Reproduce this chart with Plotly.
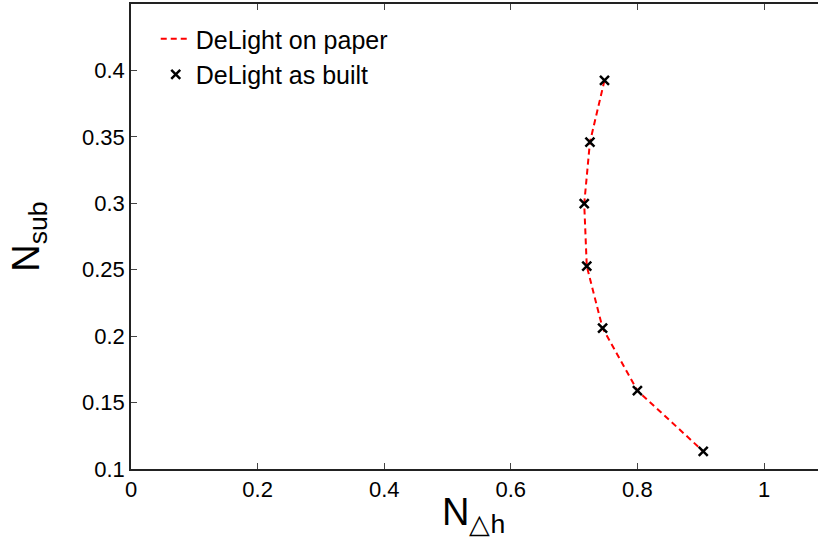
import plotly.graph_objects as go

# Daylight factor vs. height-normalised subsidy
n_dh = [0.748, 0.725, 0.716, 0.720, 0.745, 0.800, 0.904]
n_sub = [0.3925, 0.346, 0.2997, 0.2527, 0.206, 0.159, 0.1133]

x_ticks = [0, 0.2, 0.4, 0.6, 0.8, 1]
x_tick_text = ["0", "0.2", "0.4", "0.6", "0.8", "1"]
y_ticks = [0.1, 0.15, 0.2, 0.25, 0.3, 0.35, 0.4]
y_tick_text = ["0.1", "0.15", "0.2", "0.25", "0.3", "0.35", "0.4"]

FONT = "Liberation Sans, Arial, Helvetica, sans-serif"

fig = go.Figure()
fig.add_trace(go.Scatter(
    x=n_dh, y=n_sub, mode="lines", name="DeLight on paper",
    line=dict(color="#ff0000", width=2, dash="6px,4px"),
    legendgroup="a",
))
fig.add_trace(go.Scatter(
    x=n_dh, y=n_sub, mode="markers", name="DeLight as built",
    marker=dict(symbol="x-thin", size=9, color="black",
                line=dict(color="black", width=2.5)),
    legendgroup="b",
))

fig.update_layout(
    width=818, height=551,
    margin=dict(l=131, r=0, t=4, b=82),
    plot_bgcolor="white", paper_bgcolor="white",
    font=dict(family=FONT, size=22, color="black"),
    showlegend=True,
    legend=dict(x=0.036, y=0.974, xanchor="left", yanchor="top",
                bgcolor="rgba(0,0,0,0)", font=dict(size=25),
                tracegroupgap=0),
    xaxis=dict(
        range=[0, 1.0853], tickvals=x_ticks, ticktext=x_tick_text,
        showgrid=False, zeroline=False, showline=True, linecolor="#222",
        linewidth=1.5, mirror="ticks", ticks="inside", ticklen=6,
        tickcolor="#444", tickwidth=1,
    ),
    yaxis=dict(
        range=[0.1, 0.45], tickvals=y_ticks, ticktext=y_tick_text,
        showgrid=False, zeroline=False, showline=True, linecolor="#222",
        linewidth=1.5, ticks="inside", ticklen=6, tickcolor="#444",
        tickwidth=1,
        title=dict(text="N<sub>sub</sub>", font=dict(size=38), standoff=31),
    ),
)

# x-axis title placed as an annotation just under the tick labels
fig.add_annotation(
    text="N<sub>△h</sub>", xref="paper", yref="paper",
    x=0.499, y=-0.043, xanchor="center", yanchor="top",
    showarrow=False, font=dict(family=FONT, size=38, color="black"),
)

fig.write_html("out.html")
